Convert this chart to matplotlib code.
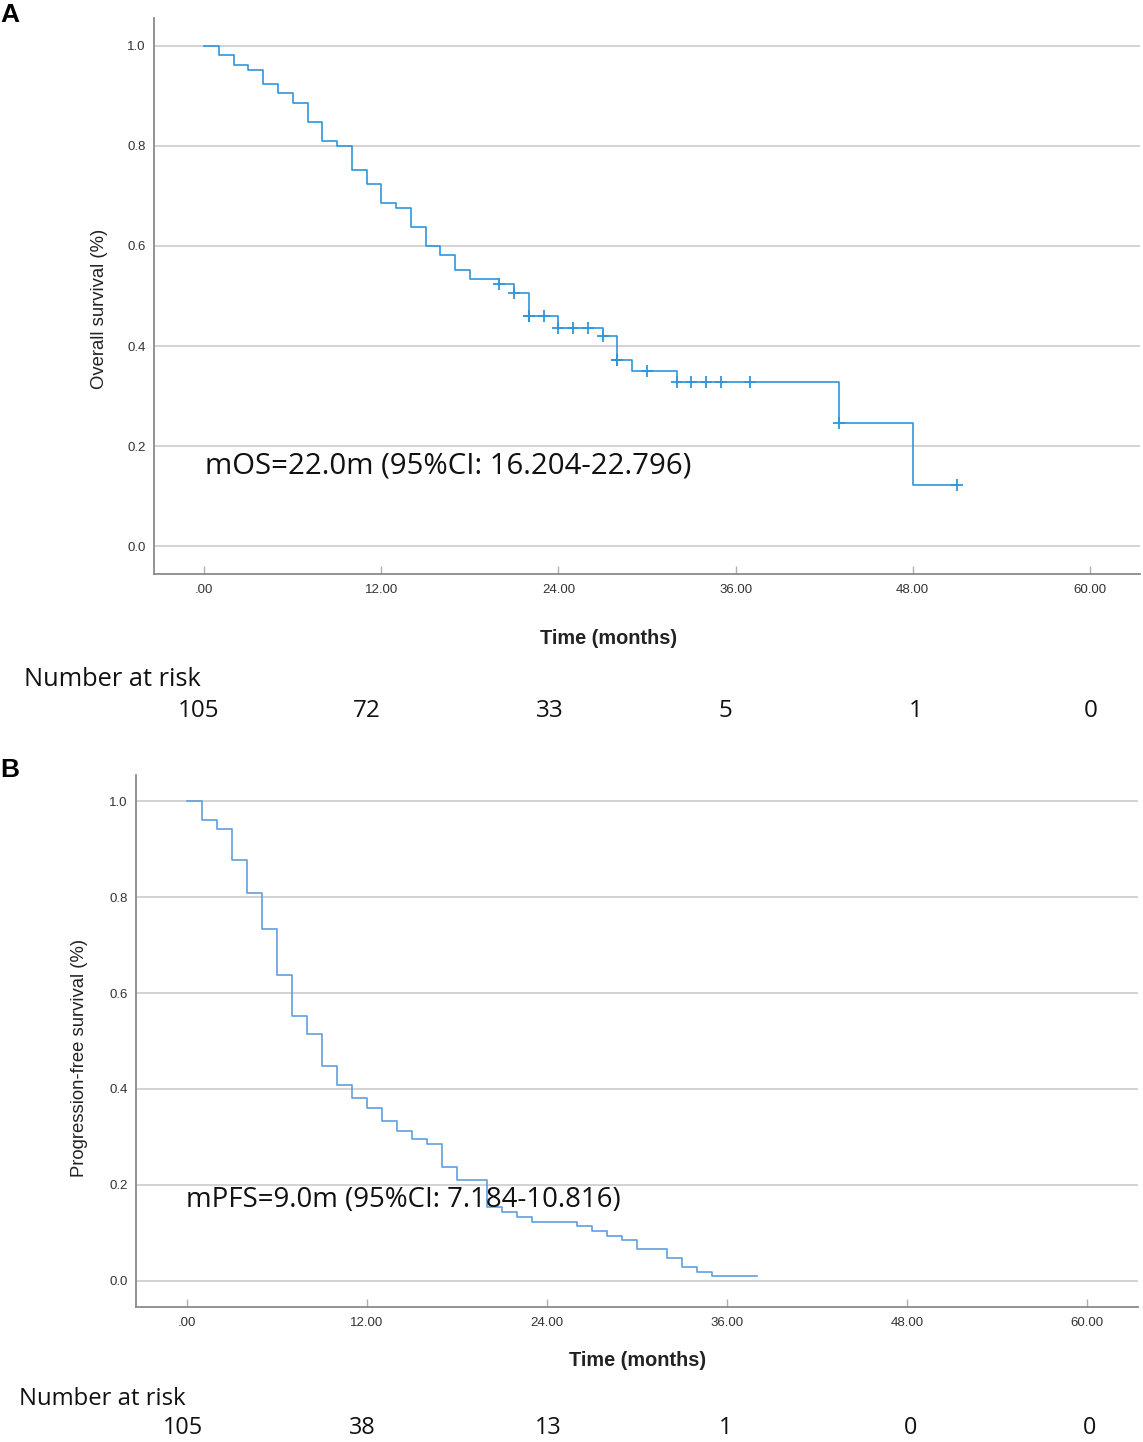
"""
Kaplan-Meier curves for overall survival (A) and progression-free survival (B),
drawn in the style of an SPSS survival plot with number-at-risk rows.
"""

import numpy as np
import matplotlib
matplotlib.use("Agg")
import matplotlib.pyplot as plt

# Panel A: overall survival (event times in months and survival after each step)
os_time = [0, 1, 2, 3, 4, 5, 6, 7, 8, 9, 10, 11, 12, 13, 14, 15, 16, 17, 18,
           20, 21, 22, 24, 27, 28, 29, 32, 43, 48]
os_surv = [1.0, 0.981, 0.962, 0.952, 0.924, 0.905, 0.886, 0.848, 0.810, 0.800,
           0.752, 0.724, 0.686, 0.676, 0.638, 0.600, 0.581, 0.552, 0.533,
           0.524, 0.505, 0.461, 0.4365, 0.421, 0.372, 0.351, 0.328, 0.2455, 0.123]
os_end = 51
os_censored = [20, 21, 22, 22, 23, 24, 25, 26, 27, 28, 28, 30, 32, 33, 34, 35, 37, 43, 51]
os_at_risk = ["105", "72", "33", "5", "1", "0"]
os_note = "mOS=22.0m (95%CI: 16.204-22.796)"

# Panel B: progression-free survival
pfs_time = [0, 1, 2, 3, 4, 5, 6, 7, 8, 9, 10, 11, 12, 13, 14, 15, 16, 17, 18,
            20, 21, 22, 23, 26, 27, 28, 29, 30, 32, 33, 34, 35]
pfs_surv = [1.0, 0.962, 0.943, 0.877, 0.809, 0.733, 0.638, 0.552, 0.514, 0.4475,
            0.409, 0.381, 0.361, 0.333, 0.313, 0.2945, 0.2855, 0.2367, 0.209,
            0.153, 0.143, 0.132, 0.123, 0.113, 0.1045, 0.094, 0.085, 0.065,
            0.0476, 0.028, 0.019, 0.009]
pfs_end = 38
pfs_censored = []
pfs_at_risk = ["105", "38", "13", "1", "0", "0"]
pfs_note = "mPFS=9.0m (95%CI: 7.184-10.816)"

x_ticks = [0, 12, 24, 36, 48, 60]
x_tick_labels = [".00", "12.00", "24.00", "36.00", "48.00", "60.00"]
y_ticks = [0.0, 0.2, 0.4, 0.6, 0.8, 1.0]

W, H = 1143, 1442
GRID = "#c8c8c8"
SPINE = "#8a8a8a"
LABEL_FONT = ["Liberation Sans", "DejaVu Sans"]
NOTE_FONT = ["Open Sans", "DejaVu Sans"]


def fx(px):
    return px / W


def fy(py):
    return 1 - py / H


def draw_panel(fig, box, times, surv, end, censored, color,
               note, note_xy, note_size):
    """Draw one KM panel; box is (left, top, right, bottom) in pixels."""
    left, top, right, bottom = box
    ax = fig.add_axes([fx(left), fy(bottom), fx(right - left), (bottom - top) / H])

    t = list(times) + [end]
    s = list(surv) + [surv[-1]]
    ax.step(t, s, where="post", color=color, lw=1.2, zorder=3)

    if censored:
        idx = np.searchsorted(times, censored, side="right") - 1
        cs = np.array(surv)[idx]
        ax.plot(censored, cs, ls="none", marker="+", ms=8, mew=1.3,
                color=color, zorder=4)

    ax.set_xlim(-3.4, 63.4)
    ax.set_ylim(-0.055, 1.055)
    ax.set_xticks(x_ticks)
    ax.set_xticklabels(x_tick_labels)
    ax.set_yticks(y_ticks)
    ax.set_yticklabels([f"{v:.1f}" for v in y_ticks])
    ax.grid(axis="y", color=GRID, lw=1.1)
    ax.set_axisbelow(True)

    for side in ("top", "right"):
        ax.spines[side].set_visible(False)
    for side in ("left", "bottom"):
        ax.spines[side].set_color(SPINE)
        ax.spines[side].set_linewidth(1.3)

    ax.tick_params(axis="x", direction="in", length=6, width=1, color="#b0b0b0",
                   labelsize=9.5, labelcolor="#333333", pad=7)
    ax.tick_params(axis="y", length=0, labelsize=9.5, labelcolor="#333333", pad=6)
    for lab in ax.get_xticklabels() + ax.get_yticklabels():
        lab.set_family(LABEL_FONT)

    ax.text(note_xy[0], note_xy[1], note, transform=fig.transFigure,
            fontsize=note_size, family=NOTE_FONT, va="center", ha="left",
            color="#111111", zorder=5)
    return ax


fig = plt.figure(figsize=(W / 100, H / 100), dpi=100)

# ---- Panel A ----
draw_panel(fig, (154, 18, 1140, 574), os_time, os_surv, os_end, os_censored,
           "#2f96dc", os_note, (fx(205), fy(466)), 21.2)
fig.text(fx(100), fy(309), "Overall survival (%)", rotation=90, ha="center",
         va="center", fontsize=13.3, family=LABEL_FONT, color="#222222")
fig.text(fx(609), fy(638), "Time (months)", ha="center", va="center",
         fontsize=14.3, weight="bold", family=LABEL_FONT, color="#222222")
fig.text(fx(24), fy(679), "Number at risk", ha="left", va="center",
         fontsize=18.3, family=NOTE_FONT, color="#111111")
for xp, n in zip([199, 367, 550, 725, 916, 1091], os_at_risk):
    fig.text(fx(xp), fy(711), n, ha="center", va="center", fontsize=17.5,
             family=NOTE_FONT, color="#111111")
fig.text(fx(0), fy(15), "A", ha="left", va="center", fontsize=19,
         weight="bold", family=LABEL_FONT)

# ---- Panel B ----
draw_panel(fig, (136, 775, 1138, 1307), pfs_time, pfs_surv, pfs_end, pfs_censored,
           "#5f9fe0", pfs_note, (fx(186), fy(1200)), 19.9)
fig.text(fx(80), fy(1058), "Progression-free survival (%)", rotation=90,
         ha="center", va="center", fontsize=13.3, family=LABEL_FONT, color="#222222")
fig.text(fx(638), fy(1361), "Time (months)", ha="center", va="center",
         fontsize=14.3, weight="bold", family=LABEL_FONT, color="#222222")
fig.text(fx(19), fy(1399), "Number at risk", ha="left", va="center",
         fontsize=17.2, family=NOTE_FONT, color="#111111")
for xp, n in zip([183, 362, 548, 726, 911, 1090], pfs_at_risk):
    fig.text(fx(xp), fy(1428), n, ha="center", va="center", fontsize=16.8,
             family=NOTE_FONT, color="#111111")
fig.text(fx(0), fy(770), "B", ha="left", va="center", fontsize=19,
         weight="bold", family=LABEL_FONT)

fig.savefig("out.png", dpi=100)
print("saved out.png")
